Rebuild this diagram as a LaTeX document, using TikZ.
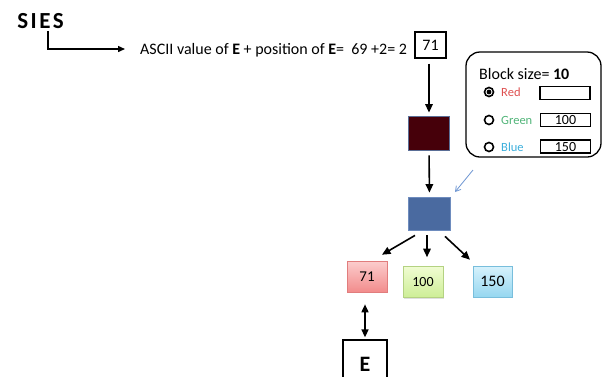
\documentclass[tikz,border=0pt]{standalone}
\usepackage{fontspec}
\setmainfont{Carlito}
\usetikzlibrary{arrows.meta,shadows}

\definecolor{darkblock}{RGB}{70,0,10}
\definecolor{darkedge}{RGB}{90,110,150}
\definecolor{blueblock}{RGB}{74,106,160}
\definecolor{blueedge}{RGB}{110,140,190}
\definecolor{hintblue}{RGB}{110,150,210}
\definecolor{redtxt}{RGB}{222,80,80}
\definecolor{greentxt}{RGB}{80,180,120}
\definecolor{bluetxt}{RGB}{60,175,220}

\tikzset{
  arr/.style={line width=1.6pt,-{Triangle[length=8.5pt,width=7.5pt]}},
  plainbox/.style={draw,line width=1.1pt,inner sep=0pt},
  colourbox/.style={draw,line width=0.6pt,inner sep=0pt,minimum width=40pt,minimum height=31pt,
    drop shadow={opacity=0.25,shadow xshift=1.2pt,shadow yshift=-1.2pt}},
  radio/.style={circle,draw,line width=1.6pt,minimum size=9pt,inner sep=0pt},
  fieldbox/.style={draw,line width=1.1pt,minimum width=50pt,minimum height=13pt,inner sep=0pt,font=\fontsize{14}{14}\selectfont},
  lbl/.style={anchor=west,inner sep=0pt,font=\fontsize{12.5}{12.5}\selectfont}
}

\begin{document}
\begin{tikzpicture}[x=1pt,y=-1pt]
\useasboundingbox (0,0) rectangle (605,376);
\clip (0,0) rectangle (605,376);

% heading word and elbow arrow
\node[inner sep=0pt,font=\fontsize{23}{23}\selectfont\bfseries\addfontfeature{LetterSpace=11}] (sies) at (40.5,21) {SIES};
\coordinate (tail) at (125,49);
\draw[line width=1.4pt,-{Triangle[length=7pt,width=6pt]}] ([xshift=7.5pt,yshift=-2pt]sies.south) |- (tail);

% formula line
\node[anchor=base west,inner sep=0pt,font=\fontsize{16}{16}\selectfont] (formula) at (140,54)
  {ASCII value of \textbf{E} + position of \textbf{E}=\ \ 69 +2= 2};
\node[plainbox,minimum width=31pt,minimum height=26pt,font=\fontsize{16}{16}\selectfont] (sum) at (430.5,45) {71};

% processing blocks
\node[draw=darkedge,fill=darkblock,line width=0.8pt,minimum width=41pt,minimum height=34pt] (dark) at (429,133) {};
\node[draw=blueedge,fill=blueblock,line width=0.8pt,minimum width=42pt,minimum height=33pt] (mix) at (429.5,213.5) {};

\draw[arr,shorten <=5pt,shorten >=3pt] (sum.south -| dark.north) -- (dark.north);
\draw[arr,shorten <=5pt,shorten >=4pt] (dark.south) -- (mix.north);

% block size panel
\node[draw,line width=1.3pt,rounded corners=14pt,minimum width=135pt,minimum height=105pt] (panel) at (533.5,104.5) {};
\node[anchor=base west,inner sep=0pt,font=\fontsize{16}{16}\selectfont] (bs) at (479,79) {Block size= \textbf{10}};

\node[radio] (rR) at (489,92) {};
\fill (rR) circle (2.4pt);
\node[radio] (rG) at (489,120) {};
\node[radio] (rB) at (489,147) {};

\node[lbl,text=redtxt] (lR) at (501,92) {Red};
\node[lbl,text=greentxt] (lG) at (501,120) {Green};
\node[lbl,text=bluetxt] (lB) at (501,147) {Blue};

\node[fieldbox] (fR) at (565,93) {};
\node[fieldbox] (fG) at (565.5,120) {100};
\node[fieldbox] (fB) at (565.5,146.5) {150};

% thin pointer from the panel to the mixed block
\coordinate (hintA) at (473,170);
\coordinate (hintB) at (455,192);
\draw[hintblue,line width=0.8pt,-{Straight Barb[length=5pt,width=6pt]}] (hintA) -- (hintB);

% channel boxes
\node[colourbox,draw={rgb,255:red,225;green,125;blue,125},top color={rgb,255:red,252;green,205;blue,205},bottom color={rgb,255:red,242;green,140;blue,140},font=\fontsize{15}{15}\selectfont] (cR) at (367,276.5) {71};
\node[colourbox,draw={rgb,255:red,180;green,210;blue,130},top color={rgb,255:red,240;green,252;blue,210},bottom color={rgb,255:red,205;green,238;blue,150},font=\fontsize{14}{14}\selectfont] (cG) at (423,282) {100};
\node[colourbox,draw={rgb,255:red,120;green,190;blue,220},top color={rgb,255:red,215;green,242;blue,252},bottom color={rgb,255:red,150;green,215;blue,240},minimum width=39pt,font=\fontsize{16}{16}\selectfont] (cB) at (492.5,281.5) {150};

\draw[arr] ([xshift=-14.5pt,yshift=-5pt]mix.south) -- ([xshift=15pt,yshift=6pt]cR.north);
\draw[arr] ([xshift=-2.5pt,yshift=-5pt]mix.south) -- ([xshift=4pt,yshift=9pt]cG.north);
\draw[arr] ([xshift=15.5pt,yshift=-6pt]mix.south) -- ([xshift=-22.5pt,yshift=6pt]cB.north);

% letter box
\node[plainbox,line width=1.3pt,minimum width=44pt,minimum height=50pt,font=\fontsize{22}{22}\selectfont\bfseries] (letter) at (365,365) {\raisebox{2pt}{E}};
\draw[line width=1.6pt,{Triangle[length=8pt,width=7pt]}-{Triangle[length=8pt,width=7pt]},shorten <=12pt,shorten >=2pt] (cR.south -| letter.north) -- (letter.north);
\end{tikzpicture}
\end{document}
